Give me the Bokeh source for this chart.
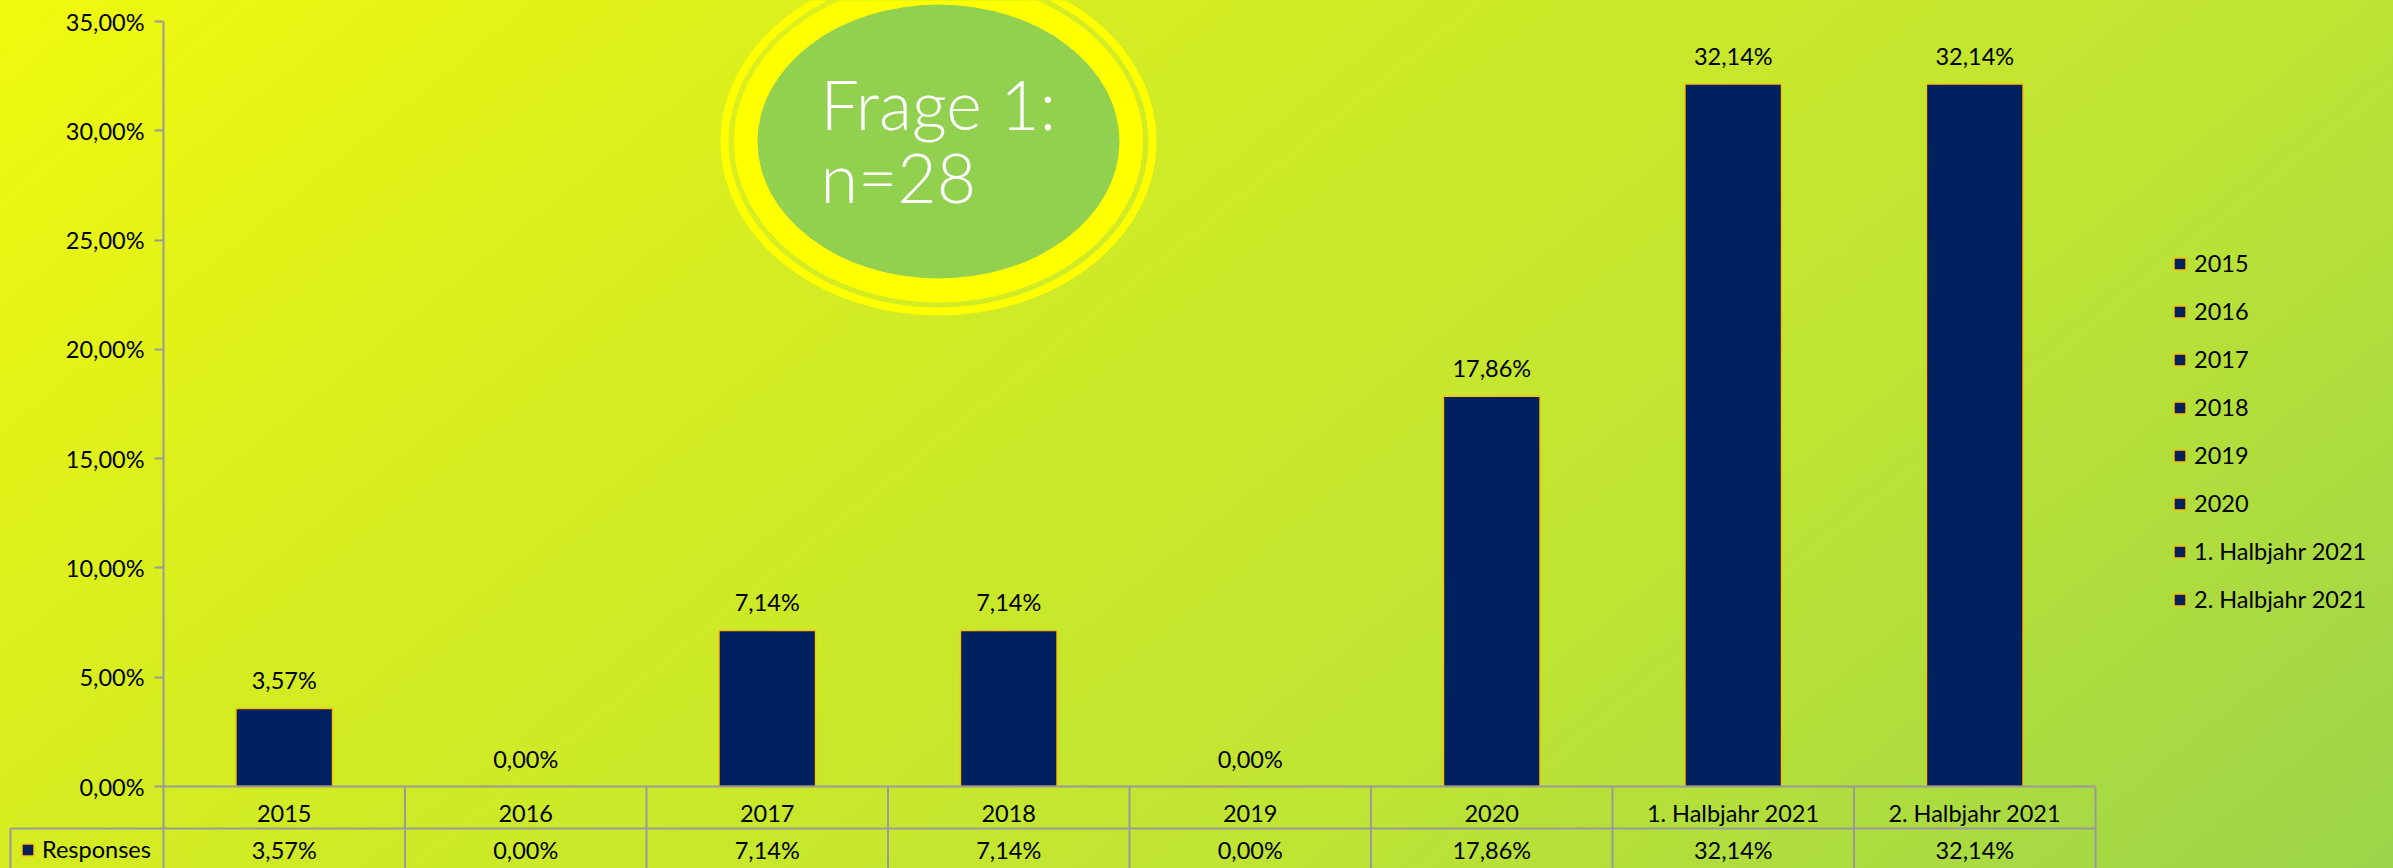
import numpy as np
from bokeh.plotting import figure
from bokeh.models import Range1d, FixedTicker, Legend, LegendItem, ColumnDataSource
from bokeh.core.properties import value
from bokeh.embed import file_html
from bokeh.resources import INLINE

# ---------------- data ----------------
categories = ["2015", "2016", "2017", "2018", "2019", "2020",
              "1. Halbjahr 2021", "2. Halbjahr 2021"]
responses = [3.57, 0.00, 7.14, 7.14, 0.00, 17.86, 32.14, 32.14]
series_name = "Responses"
y_ticks = [0, 5, 10, 15, 20, 25, 30, 35]
y_tick_labels = ["0,00%", "5,00%", "10,00%", "15,00%", "20,00%",
                 "25,00%", "30,00%", "35,00%"]
title_lines = ["Frage 1:", "n=28"]


def fmt(v):
    return f"{v:.2f}".replace(".", ",") + "%"


# ---------------- layout (pixels inside the figure) ----------------
W, H = 2393, 868
PLOT_LEFT = 163          # px where first category starts
CAT_W = 241.5            # px per category
ZERO_Y = 786             # px of the 0 % line
PPU = 765 / 35           # px per percent

def X(px):
    return (px - PLOT_LEFT) / CAT_W

def Y(py):
    return (ZERO_Y - py) / PPU

NAVY = "#002060"
ORANGE = "#FFC000"
GRAY = "#9A9A9A"
FONT = "Lato"
FS = "23.5px"

p = figure(width=W, height=H,
           x_range=Range1d(X(0), X(W)), y_range=Range1d(Y(H), Y(0)),
           output_backend="svg", toolbar_location=None)
p.min_border_left = p.min_border_right = 0
p.min_border_top = p.min_border_bottom = 0
p.background_fill_color = None
p.border_fill_color = None
p.outline_line_color = None
p.xgrid.visible = False
p.ygrid.visible = False
p.styles = {"background": "linear-gradient(141deg, #F0F90E 0%, #D4EC22 32%, "
                          "#BEE434 68%, #9CD44A 100%)"}

n = len(categories)
centers = np.arange(n) + 0.5

# ---- decorative title ellipse ----
EX, EY = X(938), Y(141)
p.ellipse(x=[EX], y=[EY], width=[428], height=[340],
          width_units="screen", height_units="screen",
          fill_color=None, line_color="#FFFF00", line_width=8)
p.ellipse(x=[EX], y=[EY], width=[409], height=[322],
          width_units="screen", height_units="screen",
          fill_color="#FFFF00", line_color=None)
p.ellipse(x=[EX], y=[EY], width=[362], height=[274],
          width_units="screen", height_units="screen",
          fill_color="#92D050", line_color=None)
p.text(x=[X(820), X(820)], y=[Y(103), Y(176)], text=title_lines,
       text_font=value("Lato Light"), text_font_size="68px",
       text_color="white", text_baseline="alphabetic", text_align="left")

# ---- bars ----
src = ColumnDataSource(dict(xc=centers, top=responses,
                            lab=[fmt(v) for v in responses],
                            laby=[v + 28 / PPU for v in responses]))
bars = p.vbar(x="xc", top="top", bottom=0, width=0.4, source=src,
              fill_color=NAVY, line_color=ORANGE, line_width=1.5)
p.text(x="xc", y="laby", text="lab", source=src,
       text_font=value(FONT), text_font_size=FS, text_color="black",
       text_align="center", text_baseline="middle")

# ---- data table below the axis ----
row_sep = Y(ZERO_Y + 42)
p.segment(x0=list(np.arange(n + 1)), y0=[0] * (n + 1),
          x1=list(np.arange(n + 1)), y1=[Y(H)] * (n + 1),
          line_color=GRAY, line_width=2)
p.segment(x0=[X(10)], y0=[row_sep], x1=[n], y1=[row_sep],
          line_color=GRAY, line_width=2)
p.segment(x0=[X(10)], y0=[row_sep], x1=[X(10)], y1=[Y(H)],
          line_color=GRAY, line_width=2)
p.text(x=centers, y=[Y(ZERO_Y + 63)] * n, text=[fmt(v) for v in responses],
       text_font=value(FONT), text_font_size=FS, text_color="black",
       text_align="center", text_baseline="middle")

# ---- axes ----
yax = p.yaxis[0]
yax.fixed_location = 0
yax.bounds = (0, 35)
yax.ticker = FixedTicker(ticks=y_ticks)
yax.major_label_overrides = {t: l for t, l in zip(y_ticks, y_tick_labels)}
yax.axis_line_color = GRAY
yax.axis_line_width = 2
yax.major_tick_line_color = GRAY
yax.major_tick_line_width = 2
yax.major_tick_out = 9
yax.major_tick_in = 0
yax.minor_tick_out = 0
yax.minor_tick_in = 0
yax.major_label_standoff = 10
yax.major_label_text_font = FONT
yax.major_label_text_font_size = FS
yax.major_label_text_color = "black"

xax = p.xaxis[0]
xax.fixed_location = 0
xax.bounds = (0, n)
xax.ticker = FixedTicker(ticks=[float(c) for c in centers])
xax.major_label_overrides = {float(c): cat for c, cat in zip(centers, categories)}
xax.axis_line_color = GRAY
xax.axis_line_width = 2
xax.major_tick_out = 0
xax.major_tick_in = 0
xax.minor_tick_out = 0
xax.minor_tick_in = 0
xax.major_label_standoff = 12
xax.major_label_text_font = FONT
xax.major_label_text_font_size = FS
xax.major_label_text_color = "black"

# ---- legends ----
def style_legend(lg):
    lg.glyph_width = 15
    lg.glyph_height = 15
    lg.label_standoff = 7
    lg.label_height = 20
    lg.padding = 0
    lg.margin = 0
    lg.border_line_color = None
    lg.background_fill_alpha = 0
    lg.label_text_font = FONT
    lg.label_text_font_size = FS
    lg.label_text_color = "black"

items = [LegendItem(label=value(c), renderers=[bars], index=i)
         for i, c in enumerate(categories)]
leg = Legend(items=items, location=(2172, H - 613))
style_legend(leg)
leg.spacing = 20
p.add_layout(leg)

leg2 = Legend(items=[LegendItem(label=value(series_name), renderers=[bars])],
              location=(20, 5))
style_legend(leg2)
p.add_layout(leg2)

open("out.html", "w").write(file_html(p, INLINE))
